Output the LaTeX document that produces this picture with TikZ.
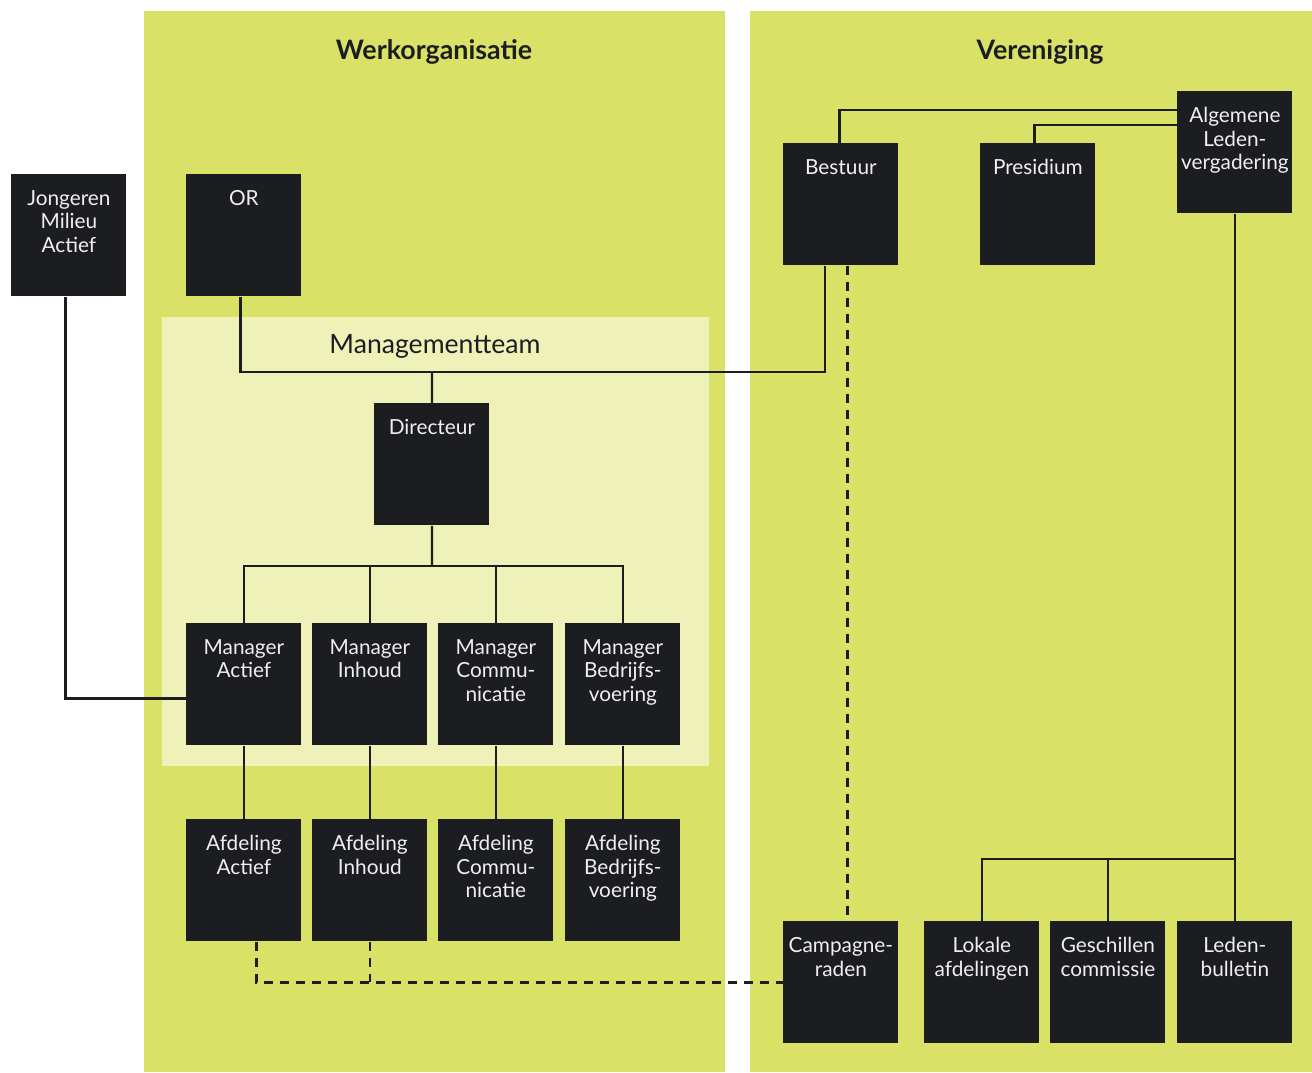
\documentclass[tikz,border=0pt]{standalone}
\usepackage{fontspec}
\setmainfont{Lato}
\usepackage{xcolor}
\usepackage{tikz}
\definecolor{panelgreen}{HTML}{D9E167}
\definecolor{mtgreen}{HTML}{EEF1B8}
\definecolor{boxdark}{HTML}{1C1D21}
\definecolor{boxtext}{HTML}{EFEFEF}
\tikzset{
orgbox/.style={
  rectangle,
  fill=boxdark,
  anchor=north west,
  inner sep=0pt,
  minimum width=57.5pt,
  minimum height=61pt
},
boxlabel/.style={
  anchor=north,
  yshift=-8pt,
  inner sep=0pt,
  align=center,
  text=boxtext,
  font=\fontsize{10.4}{11.8}\selectfont
},
title/.style={text=boxdark,font=\bfseries\fontsize{13.4}{15}\selectfont},
link/.style={line width=1.1pt,draw=boxdark},
dashlink/.style={link,dash pattern=on 4.5pt off 3.5pt},
}

\begin{document}
\begin{tikzpicture}[x=0.5pt,y=-0.5pt]
\useasboundingbox (0,0) rectangle (1312,1072);
% the panels
\fill[panelgreen] (144,11) rectangle (725,1072);
\fill[panelgreen] (750,11) rectangle (1312,1072);
\fill[mtgreen] (162,317) rectangle (709,766);
\node[title] (werk) at (434,52) {Werkorganisatie};
\node[title] (ver) at (1040,52) {Vereniging};
\node[text=boxdark,font=\fontsize{13.3}{15}\selectfont] (mt) at (435,346) {Managementteam};

% the boxes
\node[orgbox,label={[boxlabel]north:Jongeren\\Milieu\\Actief}] (jma) at (11,174) {};
\node[orgbox,label={[boxlabel]north:OR}] (or) at (186,174) {};
\node[orgbox,label={[boxlabel]north:Directeur}] (dir) at (374,403) {};
\node[orgbox,label={[boxlabel]north:Manager\\Actief}] (ma) at (186,623) {};
\node[orgbox,label={[boxlabel]north:Manager\\Inhoud}] (mi) at (312,623) {};
\node[orgbox,label={[boxlabel]north:Manager\\Commu-\\nicatie}] (mc) at (438,623) {};
\node[orgbox,label={[boxlabel]north:Manager\\Bedrijfs-\\voering}] (mb) at (565,623) {};
\node[orgbox,label={[boxlabel]north:Afdeling\\Actief}] (aa) at (186,819) {};
\node[orgbox,label={[boxlabel]north:Afdeling\\Inhoud}] (ai) at (312,819) {};
\node[orgbox,label={[boxlabel]north:Afdeling\\Commu-\\nicatie}] (ac) at (438,819) {};
\node[orgbox,label={[boxlabel]north:Afdeling\\Bedrijfs-\\voering}] (ab) at (565,819) {};
\node[orgbox,label={[boxlabel]north:Bestuur}] (bestuur) at (783,143) {};
\node[orgbox,label={[boxlabel]north:Presidium}] (pres) at (980,143) {};
\node[orgbox,label={[boxlabel]north:Algemene\\Leden-\\vergadering}] (alv) at (1177,91) {};
\node[orgbox,label={[boxlabel]north:Campagne-\\raden}] (camp) at (783,921) {};
\node[orgbox,label={[boxlabel]north:Lokale\\afdelingen}] (lok) at (924,921) {};
\node[orgbox,label={[boxlabel]north:Geschillen\\commissie}] (gc) at (1050,921) {};
\node[orgbox,label={[boxlabel]north:Leden-\\bulletin}] (lb) at (1177,921) {};

% the lines
\coordinate (mtjoin) at (432,372);
\coordinate (msplit) at (432,566);
\coordinate (vsplit) at (1234.5,859);
\draw[link] ([xshift=-1.75pt]or.south) |- (mtjoin) -| ([xshift=-8pt]bestuur.south);
\draw[link] (mtjoin) -- (dir.north);
\draw[link] (dir.south) -- (msplit);
\foreach \m in {ma,mi,mc,mb}
{
  \draw[link] (msplit) -| (\m.north);
}
\foreach \m/\a in {ma/aa,mi/ai,mc/ac,mb/ab}
{
  \draw[link] (\m.south) -- (\a.north);
}
\draw[link] ([xshift=-1.75pt]jma.south) |- ([yshift=-7pt]ma.west);
\draw[link] ([yshift=-9.5pt]alv.north west) -| ([xshift=-0.75pt]bestuur.north);
\draw[link] ([yshift=-17pt]alv.north west) -| ([xshift=-1.75pt]pres.north);
\draw[link] (alv.south) -- (lb.north);
\foreach \v in {lok,gc}
{
  \draw[link] (vsplit) -| (\v.north);
}
% the dashed lines
\draw[dashlink] ([xshift=3.25pt]bestuur.south) -- ([xshift=3.25pt]camp.north);
\draw[dashlink] ([xshift=6.25pt]aa.south) |- (camp.west);
\draw[dashlink] (ai.south) -- (ai.south |- camp.west);
\end{tikzpicture}
\end{document}
